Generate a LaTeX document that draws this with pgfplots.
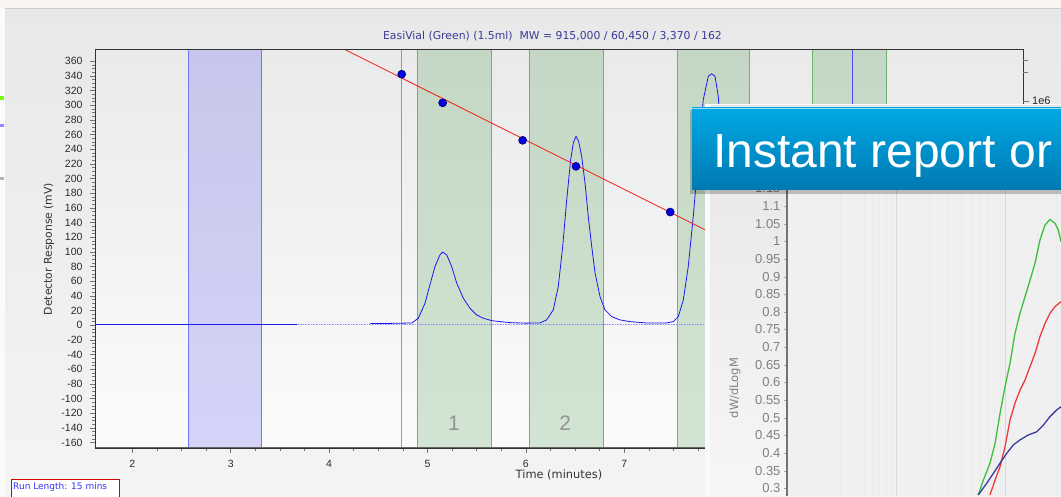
\documentclass[border=0pt]{standalone}
\usepackage{pgfplots}
\pgfplotsset{compat=1.18}
\usepackage{fontspec}
\setmainfont{Liberation Sans}
\newfontfamily\dejavu{DejaVu Sans}
\definecolor{bgtop}{HTML}{E8E8E8}
\definecolor{bgbot}{HTML}{F4F4F4}
\definecolor{plottop}{HTML}{EAEAEA}
\definecolor{plotbot}{HTML}{FBFBFB}
\definecolor{bandgreen}{HTML}{2E8B2E}
\definecolor{bandedge}{HTML}{6DB56D}
\definecolor{bandblue}{HTML}{3A3AF5}
\definecolor{titleblue}{HTML}{3B3B98}
\definecolor{trace}{HTML}{1A1AF0}
\definecolor{calred}{HTML}{F02020}
\definecolor{ticktext}{HTML}{2A2A2A}
\definecolor{bannertop}{HTML}{00A8E4}
\definecolor{bannerbot}{HTML}{0079B2}
\definecolor{gcurve}{HTML}{3CBF3C}
\definecolor{rcurve}{HTML}{EE3A3A}
\definecolor{bcurve}{HTML}{3A3AA0}
\definecolor{panelbg}{HTML}{E6E6E6}
\definecolor{panelplot}{HTML}{F0F0F0}
\begin{document}
\begin{tikzpicture}
\useasboundingbox (0pt,0pt) rectangle (1061pt,496pt);
\clip (0pt,0pt) rectangle (1061pt,496pt);
% window background
\shade[top color=bgtop,bottom color=bgbot] (0pt,0pt) rectangle (1061pt,496pt);
\fill[white!92!brown] (0pt,488pt) rectangle (1061pt,496pt);
\draw[gray!40] (0pt,488pt) -- (1061pt,488pt);
\fill[white!97!gray] (0pt,0pt) rectangle (5pt,488pt);
\fill[green!55!yellow] (0pt,396pt) rectangle (4pt,400pt);
\fill[blue!45] (0pt,369pt) rectangle (4pt,372pt);
\fill[gray!60] (0pt,316pt) rectangle (4pt,319pt);
% title
\node[text=titleblue, font=\dejavu\fontsize{10.85}{12}\selectfont, inner sep=0pt] at (552.5pt,460pt)
  {EasiVial (Green) (1.5ml)\ \ MW = 915,000 / 60,450 / 3,370 / 162};
\begin{axis}[
  at={(95pt,48pt)}, anchor=south west,
  scale only axis, width=928pt, height=398pt,
  xmin=1.621, xmax=11.052, ymin=-167.2, ymax=375.3,
  xtick={2,3,4,5,6,7,8,9,10,11},
  ytick={-160,-140,-120,-100,-80,-60,-40,-20,0,20,40,60,80,100,120,140,160,180,200,220,240,260,280,300,320,340,360},
  minor x tick num=3, minor y tick num=3,
  tick align=outside, tick pos=left,
  major tick length=5pt, minor tick length=3pt,
  every tick/.style={black!55, line width=0.6pt},
  tick label style={font=\fontsize{10.5}{12}\selectfont, text=ticktext},
  yticklabel style={xshift=-4pt},
  xticklabel style={yshift=-4pt},
  /pgf/number format/assume math mode=true,
  /pgf/number format/1000 sep={},
  axis background/.style={top color=plottop,bottom color=plotbot},
  axis line style={black!80, line width=1pt},
  axis on top,
  xlabel={Time (minutes)},
  ylabel={Detector Response (mV)},
  every axis x label/.style={at={(axis description cs:0.5,-0.068)}, anchor=center, font=\dejavu\fontsize{11.4}{12}\selectfont, text=black!80},
  every axis y label/.style={at={(axis description cs:-0.0496,0.5)}, rotate=90, anchor=center, font=\dejavu\fontsize{10.8}{12}\selectfont, text=black!80},
]
% fractions (bands)
\addplot[fill=bandblue, fill opacity=0.2, draw=bandblue!70, line width=0.6pt] coordinates {(2.569,-180) (2.569,390) (3.315,390) (3.315,-180)} -- cycle;
\addplot[fill=bandgreen, fill opacity=0.2, draw=bandedge, line width=0.6pt] coordinates {(4.900,-180) (4.900,390) (5.652,390) (5.652,-180)} -- cycle;
\addplot[fill=bandgreen, fill opacity=0.2, draw=bandedge, line width=0.6pt] coordinates {(6.035,-180) (6.035,390) (6.787,390) (6.787,-180)} -- cycle;
\addplot[fill=bandgreen, fill opacity=0.2, draw=bandedge, line width=0.6pt] coordinates {(7.539,-180) (7.539,390) (8.270,390) (8.270,-180)} -- cycle;
\addplot[fill=bandgreen, fill opacity=0.2, draw=bandedge, line width=0.6pt] coordinates {(8.911,-180) (8.911,390) (9.660,390) (9.660,-180)} -- cycle;
% markers
\addplot[blue!45, line width=0.6pt] coordinates {(4.738,-180) (4.738,390)};
\addplot[blue!70, line width=0.6pt] coordinates {(9.317,-180) (9.317,390)};
% baselines
\addplot[trace, line width=1.1pt] coordinates {(1.5,1.5) (3.67,1.5)};
\addplot[blue!45, line width=0.6pt, densely dotted] coordinates {(3.67,1.5) (11.2,1.5)};
% chromatogram
\addplot[trace, line width=0.8pt] coordinates {
(4.42,2.5) (4.60,2.6) (4.84,3.2) (4.907,9.7) (4.975,30.2) (5.025,55.2) (5.076,80.1) (5.127,96.1) (5.154,99.8) (5.195,96.1) (5.246,80.1) (5.297,57.5) (5.364,37.0) (5.432,23.3) (5.500,14.2) (5.567,9.7) (5.652,6.4) (5.737,5.1) (5.838,3.7) (6.00,3.0) (6.143,3.2) (6.211,7.4) (6.278,21.0) (6.329,52.8) (6.374,107.5) (6.415,171.2) (6.455,225.8) (6.482,248.6) (6.509,257.6) (6.536,250.8) (6.567,230.3) (6.601,194.0) (6.634,148.4) (6.669,107.5) (6.703,71.1) (6.753,39.2) (6.804,21.0) (6.872,11.9) (6.956,7.4) (7.057,5.1) (7.227,3.2) (7.431,3.3) (7.498,5.1) (7.549,11.9) (7.600,34.7) (7.650,80.1) (7.701,148.4) (7.752,230.3) (7.803,307.7) (7.854,339.6) (7.888,342.8) (7.922,339.6) (7.955,312.2) (7.99,250) (8.03,180) (8.08,100) (8.13,50) (8.2,20) (8.3,8) (8.5,4) (9.0,3)};
% calibration
\addplot[calred, line width=0.8pt] coordinates {(4.0,386.6) (11,-83.1)};
\addplot[only marks, mark=*, mark size=4pt, mark options={fill=blue!90!black, draw=black!60!blue, line width=0.6pt}] coordinates {(4.738,342.3) (5.154,303.3) (5.967,252.2) (6.509,216.7) (7.467,154.4)};
% fraction numbers
\node[text=gray!85, font=\fontsize{21}{22}\selectfont] at (axis cs:5.27,-133) {1};
\node[text=gray!85, font=\fontsize{21}{22}\selectfont] at (axis cs:6.40,-133) {2};
\draw[line width=2pt, black!60] (rel axis cs:0,0) -- (rel axis cs:0,1);
\draw[line width=2pt, black!60] (rel axis cs:0,0) -- (rel axis cs:1,0);
\end{axis}
% right axis ticks (MW scale)
\draw[black!55, line width=0.6pt] (1023pt,436pt) -- (1028pt,436pt) (1023pt,423.7pt) -- (1028pt,423.7pt) (1023pt,395pt) -- (1029pt,395pt);
\node[anchor=west, inner sep=0pt, font=\fontsize{11}{12}\selectfont, text=ticktext] at (1032pt,395pt) {1e6};
% run length box
\draw[red!85!black, fill=white, line width=0.8pt] (11pt,-2pt) rectangle (119pt,17pt);
\node[anchor=west, inner sep=0pt, text=blue!80, font=\dejavu\fontsize{9}{10}\selectfont] at (13pt,9pt) {Run Length: 15 mins};
% overlay panel
\fill[white!96!gray] (705pt,0pt) rectangle (1061pt,392pt);
\shade[top color=panelbg, bottom color=white!93!gray] (710pt,0pt) rectangle (1061pt,390pt);
\begin{axis}[
  at={(787pt,0pt)}, anchor=south west,
  scale only axis, width=274pt, height=388pt,
  xmin=3, xmax=5.530, ymin=0.278, ymax=1.378,
  axis background/.style={fill=panelplot},
  axis lines*=left,
  x axis line style={draw=none},
  y axis line style={line width=2.6pt, draw=black!55},
  xtick={4.013,5.013}, xticklabels={},
  minor xtick={3.314,3.490,3.615,3.712,3.791,3.858,3.916,3.967,4.314,4.490,4.615,4.712,4.791,4.858,4.916,4.967,5.314,5.490},
  xmajorgrids, xminorgrids,
  major x grid style={gray!30, line width=1pt},
  minor x grid style={gray!16, line width=1pt},
  x tick style={draw=none},
  ytick={0.3,0.35,0.4,0.45,0.5,0.55,0.6,0.65,0.7,0.75,0.8,0.85,0.9,0.95,1,1.05,1.1,1.15},
  yticklabels={0.3,0.35,0.4,0.45,0.5,0.55,0.6,0.65,0.7,0.75,0.8,0.85,0.9,0.95,1,1.05,1.1,1.15},
  tick align=outside, major tick length=3pt,
  y tick style={black!35},
  yticklabel style={font=\fontsize{13}{14}\selectfont, text=black!50},
  ylabel={dW/dLogM},
  every axis y label/.style={at={(rel axis cs:-0.19,0.278)}, rotate=90, anchor=center, font=\dejavu\fontsize{11.5}{12}\selectfont, text=black!50},
]
\addplot[gcurve, line width=1.3pt] coordinates {(4.766,0.281) (4.813,0.323) (4.874,0.371) (4.921,0.427) (4.967,0.512) (5.013,0.588) (5.059,0.654) (5.105,0.739) (5.151,0.796) (5.198,0.843) (5.244,0.890) (5.290,0.938) (5.336,1.004) (5.382,1.046) (5.428,1.062) (5.475,1.051) (5.505,1.032) (5.530,0.999)};
\addplot[rcurve, line width=1.3pt] coordinates {(4.874,0.281) (4.921,0.323) (4.967,0.361) (5.013,0.418) (5.059,0.493) (5.105,0.541) (5.151,0.578) (5.198,0.607) (5.244,0.645) (5.290,0.682) (5.336,0.730) (5.382,0.767) (5.428,0.796) (5.475,0.815) (5.530,0.829)};
\addplot[bcurve, line width=1.3pt] coordinates {(4.766,0.281) (4.844,0.314) (4.905,0.342) (4.967,0.371) (5.029,0.399) (5.090,0.423) (5.151,0.437) (5.228,0.451) (5.306,0.460) (5.367,0.479) (5.428,0.503) (5.490,0.522) (5.530,0.531)};
\end{axis}
% banner
\fill[black, opacity=0.22] (690pt,302pt) rectangle (1061pt,386pt);
\shade[top color=bannertop, bottom color=bannerbot] (692pt,306pt) rectangle (1061pt,388pt);
\draw[white!60!bannertop, line width=0.8pt] (692pt,387.6pt) -- (1061pt,387.6pt);
\node[anchor=base west, inner sep=0pt, text=white, font=\fontsize{48}{50}\selectfont] at (713pt,328pt) {Instant report or};
\end{tikzpicture}
\end{document}
